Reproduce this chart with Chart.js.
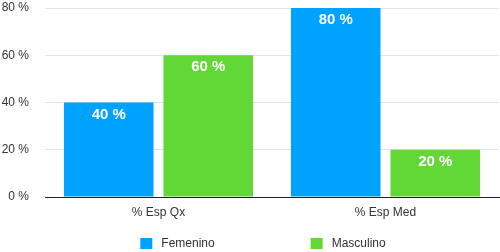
<!DOCTYPE html>
<html>
<head>
<meta charset="utf-8">
<script src="https://cdn.jsdelivr.net/npm/chart.js@4/dist/chart.umd.min.js"></script>
<style>
  html, body { margin: 0; padding: 0; background: #fff; }
  #wrap { width: 500px; height: 252px; position: relative; }
</style>
</head>
<body>
<div id="wrap"><canvas id="c" width="500" height="252"></canvas></div>
<script>
const categories = ['% Esp Qx', '% Esp Med'];
const femenino = [40, 80];
const masculino = [60, 20];
const seriesNames = ['Femenino', 'Masculino'];
const yTicks = [0, 20, 40, 60, 80];

const FONT = '"Liberation Sans", Arial, Helvetica, sans-serif';
const BLUE = '#00A2FF';
const GREEN = '#61D836';

const valueLabels = {
  id: 'valueLabels',
  afterDatasetsDraw(chart) {
    const ctx = chart.ctx;
    ctx.save();
    ctx.fillStyle = '#ffffff';
    ctx.font = 'bold 15px ' + FONT;
    ctx.textAlign = 'center';
    ctx.textBaseline = 'middle';
    chart.data.datasets.forEach((ds, di) => {
      const meta = chart.getDatasetMeta(di);
      meta.data.forEach((bar, i) => {
        ctx.fillText(ds.data[i] + ' %', bar.x, bar.y + 12);
      });
    });
    ctx.restore();
  }
};

const customLegend = {
  id: 'customLegend',
  afterDraw(chart) {
    const ctx = chart.ctx;
    ctx.save();
    ctx.font = '12px ' + FONT;
    ctx.textBaseline = 'middle';
    const box = 12, boxGap = 9, itemGap = 96;
    const items = chart.data.datasets.map(ds => ({
      text: ds.label, color: ds.backgroundColor,
      w: box + boxGap + ctx.measureText(ds.label).width
    }));
    const total = items.reduce((a, it) => a + it.w, 0) + itemGap * (items.length - 1);
    const ca = chart.chartArea;
    let x = (ca.left + ca.right) / 2 - total / 2 - 9;
    const y = 244;
    items.forEach(it => {
      ctx.fillStyle = it.color;
      ctx.fillRect(x, y - 6, box, 11);
      ctx.fillStyle = '#333333';
      ctx.textAlign = 'left';
      ctx.fillText(it.text, x + box + boxGap, y);
      x += it.w + itemGap;
    });
    ctx.restore();
  }
};

new Chart(document.getElementById('c'), {
  type: 'bar',
  data: {
    labels: categories,
    datasets: [
      { label: seriesNames[0], data: femenino, backgroundColor: BLUE, borderWidth: 0,
        categoryPercentage: 0.877, barPercentage: 0.9 },
      { label: seriesNames[1], data: masculino, backgroundColor: GREEN, borderWidth: 0,
        categoryPercentage: 0.877, barPercentage: 0.9 }
    ]
  },
  options: {
    responsive: false,
    animation: false,
    devicePixelRatio: 1,
    layout: { padding: { left: 2, right: 1, top: 8, bottom: 33 } },
    plugins: {
      legend: { display: false },
      tooltip: { enabled: false }
    },
    scales: {
      x: {
        grid: { display: false, drawTicks: false },
        border: { display: true, color: '#222222', width: 1 },
        ticks: { color: '#333333', font: { family: FONT, size: 12 }, padding: 8 },
        afterFit(s) { s.height = 22; }
      },
      y: {
        min: 0, max: 80,
        afterBuildTicks(scale) { scale.ticks = yTicks.map(v => ({ value: v })); },
        grid: { color: '#e2e2e2', lineWidth: 1, drawTicks: false },
        border: { display: false },
        ticks: {
          color: '#333333', font: { family: FONT, size: 12 }, padding: 16,
          callback: v => v + ' %'
        },
        afterFit(s) { s.width = 43; s.paddingTop = 0; }
      }
    }
  },
  plugins: [valueLabels, customLegend]
});
</script>
</body>
</html>
